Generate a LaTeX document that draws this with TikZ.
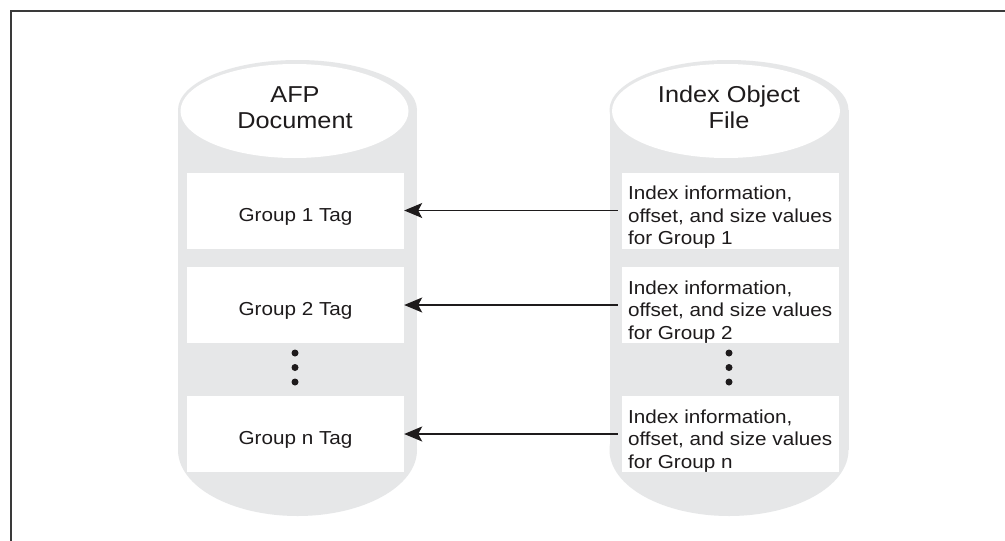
\documentclass[tikz,border=0pt]{standalone}
\usepackage{fontspec}
\setmainfont{Liberation Sans}[FakeStretch=1.1]
\usetikzlibrary{arrows.meta}

\definecolor{ink}{HTML}{1E1B1C}
\definecolor{drum}{HTML}{E6E7E8}
\definecolor{framecol}{HTML}{3A3A3A}

\newcommand{\bodyfont}{\fontsize{18.8}{22.5}\selectfont}
\newcommand{\titlefont}{\fontsize{23}{25.6}\selectfont}

\tikzset{
  tagbox/.style={fill=white, minimum width=217pt, minimum height=76pt,
    inner sep=0pt, text height=21pt, text depth=0pt, font=\bodyfont, text=ink},
  infobox/.style={fill=white, minimum width=217pt, minimum height=76pt, inner sep=0pt},
  infotext/.style={anchor=south west, inner xsep=6pt, inner ysep=0pt,
    align=left, font=\bodyfont, text=ink},
  drumtitle/.style={align=center, font=\titlefont, text=ink},
  link/.style={draw=ink, line width=1.3pt,
    -{Stealth[length=18pt,width=15pt,inset=4pt]}},
  vdot/.style={circle, fill=ink, inner sep=0pt, minimum size=7pt}
}

% database drum: grey body with a white top face
\newcommand{\drumshape}[1]{%
  \fill[drum] (#1,110) ellipse [x radius=119.5, y radius=50];
  \fill[drum] (#1-119.5,110) rectangle (#1+119.5,450);
  \fill[drum] (#1,450) ellipse [x radius=119.5, y radius=66];
  \fill[white] (#1-3,111) ellipse [x radius=114, y radius=47];
}

\begin{document}
\begin{tikzpicture}[x=1pt,y=-1pt]
\useasboundingbox (0,0) rectangle (1005,541);
\fill[white] (0,0) rectangle (1005,541);

% outer frame (only top and left edges fall inside the page)
\draw[framecol, line width=1.8pt] (11,541) -- (11,11) -- (1005,11);

\drumshape{297.5}
\drumshape{729}

% drum titles
\node[drumtitle] (afp) at (295,107.5) {AFP\\Document};
\node[drumtitle] (iof) at (729,107.5) {Index Object\\File};

% group tags in the AFP document
\node[tagbox] (l1) at (295.5,210.5) {Group 1 Tag};
\node[tagbox] (l2) at (295.5,305) {Group 2 Tag};
\node[tagbox] (ln) at (295.5,434) {Group n Tag};

% index records in the index object file
\node[infobox] (r1) at (730.5,210.5) {};
\node[infobox] (r2) at (730.5,305) {};
\node[infobox] (rn) at (730.5,434) {};
\node[infotext] (r1t) at (r1.south west) {Index information,\\offset, and size values\\for Group 1};
\node[infotext] (r2t) at (r2.south west) {Index information,\\offset, and size values\\for Group 2};
\node[infotext] (rnt) at (rn.south west) {Index information,\\offset, and size values\\for Group n};

% ellipsis dots
\node[vdot] (ld1) at (295,353) {};
\node[vdot] (ld2) at (295,367.5) {};
\node[vdot] (ld3) at (295,382) {};
\node[vdot] (rd1) at (729,353) {};
\node[vdot] (rd2) at (729,367.5) {};
\node[vdot] (rd3) at (729,382) {};

% index records point back at their group tags
\draw[link] ([xshift=-4pt]r1.west) -- (l1.east);
\draw[link] ([xshift=-4pt]r2.west) -- (l2.east);
\draw[link] ([xshift=-4pt]rn.west) -- (ln.east);
\end{tikzpicture}
\end{document}
